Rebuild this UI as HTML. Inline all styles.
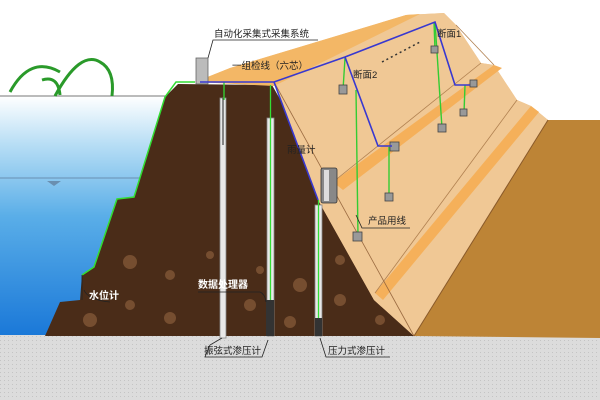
<!DOCTYPE html>
<html><head><meta charset="utf-8"><style>
html,body{margin:0;padding:0;background:#fff;width:600px;height:400px;overflow:hidden}
text{font-family:"Liberation Sans","Noto Sans CJK SC",sans-serif}
</style></head><body>
<svg width="600" height="400" viewBox="0 0 600 400" xmlns="http://www.w3.org/2000/svg">
<defs>
<linearGradient id="w" x1="0" y1="0" x2="0" y2="1">
<stop offset="0" stop-color="#ffffff"/><stop offset="0.2" stop-color="#b8def5"/><stop offset="0.5" stop-color="#5aaee8"/><stop offset="1" stop-color="#1a78d8"/></linearGradient>
<pattern id="dots" width="4" height="4" patternUnits="userSpaceOnUse"><rect width="4" height="4" fill="#dcdcdc"/><rect width="1" height="1" fill="#c4c4c4"/></pattern>
</defs>
<rect width="600" height="400" fill="#fff"/>
<!-- water -->
<rect x="0" y="96" width="190" height="240" fill="url(#w)"/>
<line x1="0" y1="96" x2="175" y2="96" stroke="#777" stroke-width="1"/>
<line x1="0" y1="178" x2="140" y2="178" stroke="#6a8fb0" stroke-width="1"/>
<polygon points="47,181 61,181 54,186" fill="#6a8fb0"/>
<!-- hills -->
<path d="M10,92 Q30,55 60,72 M42,80 Q58,75 60,95 M55,96 Q80,50 100,62 Q115,70 112,96" fill="none" stroke="#2a9a2a" stroke-width="3"/>
<!-- ground -->
<rect x="0" y="335" width="600" height="65" fill="url(#dots)"/>
<!-- natural ground right -->
<polygon points="545,120 600,120 600,338 414,336" fill="#bd8436"/>
<!-- brown core -->
<polygon points="178,84 272,85 414,336 45,336 60,302 80,300 82,275 94,267 117,199 134,197 165,97" fill="#4a2c18"/>
<g fill="#9a6a44" opacity="0.55">
<circle cx="130" cy="262" r="7"/><circle cx="170" cy="275" r="5"/><circle cx="90" cy="320" r="7"/><circle cx="170" cy="318" r="6"/><circle cx="250" cy="305" r="6"/><circle cx="300" cy="285" r="7"/><circle cx="340" cy="300" r="6"/><circle cx="340" cy="260" r="5"/><circle cx="210" cy="255" r="4"/><circle cx="260" cy="270" r="4"/><circle cx="130" cy="305" r="5"/><circle cx="380" cy="320" r="5"/><circle cx="290" cy="322" r="6"/>
</g>
<!-- tan dam -->
<polygon points="195,82 230,68 406,15 444,13 456,25 481,63 494,65 517,100 531,106 548,120 414,336 374,300 318,200 274,82" fill="#f2c48e"/>
<polygon points="274,82 406,15 444,13 456,25 481,63 494,65 517,100 531,106 548,120 414,336 374,300 318,200" fill="#f0c895"/>
<polygon points="195,82 230,68 406,15 420,14 274,86" fill="#f3b766"/>
<polygon points="494,65 502,68 343,190 333,182" fill="#f5b05a"/>
<polygon points="531,106 539,112 383,300 375,293" fill="#f5b05a"/>
<line x1="456" y1="25" x2="494" y2="65" stroke="#b08050" stroke-width="0.8"/>
<line x1="481" y1="63" x2="333" y2="182" stroke="#b08050" stroke-width="0.8"/>
<line x1="517" y1="100" x2="375" y2="293" stroke="#b08050" stroke-width="0.8"/>
<line x1="548" y1="120" x2="414" y2="336" stroke="#8a5a2a" stroke-width="1"/>
<line x1="274" y1="82" x2="414" y2="336" stroke="#9a6a40" stroke-width="0.8"/>
<!-- green outline left -->
<polyline points="195,82 176,82 165,97 134,197 117,199 94,267 82,275" fill="none" stroke="#33dd33" stroke-width="1.5"/>
<!-- instruments -->
<rect x="196" y="58" width="12" height="26" fill="#bbb" stroke="#666" stroke-width="0.8"/>
<rect x="220" y="98" width="6" height="240" fill="#e8e8e8" stroke="#888" stroke-width="0.8"/>
<line x1="223" y1="98" x2="223" y2="145" stroke="#222" stroke-width="1"/>
<rect x="267" y="118" width="7" height="218" fill="#e8e8e8" stroke="#888" stroke-width="0.8"/>
<line x1="270.5" y1="85" x2="270.5" y2="300" stroke="#33dd33" stroke-width="1.3"/>
<rect x="266" y="300" width="8" height="36" fill="#333"/>
<rect x="315" y="205" width="7" height="131" fill="#e8e8e8" stroke="#888" stroke-width="0.8"/>
<line x1="318.5" y1="200" x2="318.5" y2="320" stroke="#33dd33" stroke-width="1.3"/>
<rect x="315" y="318" width="7" height="18" fill="#333"/>
<rect x="321" y="168" width="16" height="35" rx="2" fill="#888" stroke="#333" stroke-width="0.8"/>
<rect x="324" y="170" width="5" height="31" fill="#ddd"/>
<!-- green drops -->
<g stroke="#33cc33" stroke-width="1.4">
<line x1="224" y1="82" x2="224" y2="100"/>
<line x1="345" y1="58" x2="343" y2="90"/>
<line x1="356" y1="90" x2="358" y2="237"/>
<line x1="435" y1="22" x2="442" y2="128"/>
<line x1="389" y1="147" x2="389" y2="197"/>
<line x1="465" y1="85" x2="464" y2="113"/>
<line x1="434" y1="22" x2="435" y2="50"/>
</g>
<g fill="#999" stroke="#444" stroke-width="0.8">
<rect x="339" y="85" width="8" height="9"/><rect x="353" y="232" width="9" height="9"/><rect x="438" y="124" width="8" height="8"/><rect x="385" y="193" width="8" height="8"/><rect x="460" y="109" width="7" height="7"/><rect x="390" y="142" width="9" height="9"/><rect x="470" y="80" width="7" height="7"/><rect x="431" y="46" width="7" height="7"/>
</g>
<!-- blue cable -->
<polyline points="200,82 274,82 345,57 435,22 455,85 470,85" fill="none" stroke="#3838d0" stroke-width="1.6"/>
<polyline points="274,82 318,200" fill="none" stroke="#3838d0" stroke-width="1.6"/>
<polyline points="345,57 378,146 392,146" fill="none" stroke="#3838d0" stroke-width="1.6"/>
<line x1="382" y1="62" x2="420" y2="42" stroke="#333" stroke-width="1.5" stroke-dasharray="2,3"/>
<!-- leader lines -->
<g fill="none" stroke="#222" stroke-width="0.8">
<path d="M208,58 L213,40 L318,40"/>
<path d="M82,275 L82,300 M84,290 Q88,300 110,302"/>
<path d="M198,292 L260,292 Q265,294 266,302"/>
<path d="M222,338 L210,345 L205,357 L262,357 L268,340"/>
<path d="M320,338 L326,357 L390,357"/>
<path d="M356,215 L362,228 L410,228"/>
</g>
<!-- labels -->
<g font-size="9.5" fill="#222">
<text x="214" y="37">自动化采集式采集系统</text>
<text x="232" y="69">一组检线（六芯）</text>
<text x="437" y="37">断面1</text>
<text x="353" y="78">断面2</text>
<text x="287" y="153">雨量计</text>
<text x="368" y="224">产品用线</text>
<text x="204" y="354">振弦式渗压计</text>
<text x="328" y="354">压力式渗压计</text>
</g>
<g font-size="10" fill="#fff" font-weight="bold">
<text x="89" y="299">水位计</text>
<text x="198" y="288">数据处理器</text>
</g>
</svg>
</body></html>
